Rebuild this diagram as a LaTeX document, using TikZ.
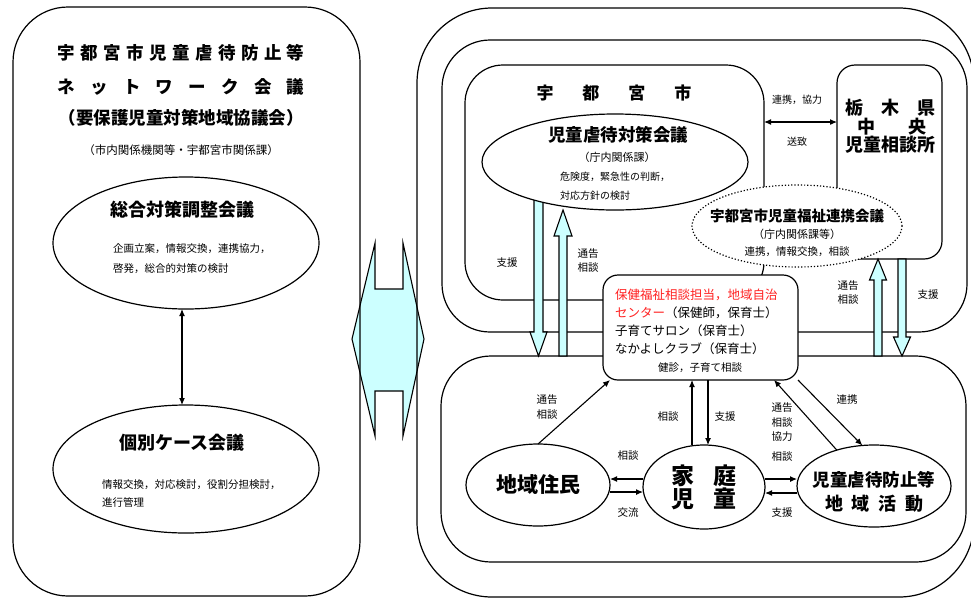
\documentclass[tikz,border=0pt]{standalone}
\usepackage{fontspec}
\setmainfont{Noto Sans CJK JP}
\usetikzlibrary{shapes.geometric,arrows.meta}

\definecolor{paleblue}{HTML}{CCFFFF}
\definecolor{alertred}{HTML}{FF2222}
\newcommand\sz[2]{\fontsize{#1}{#2}\selectfont}
\newcommand\spreadtext[2]{\makebox[#1][s]{#2}}

\tikzset{
    frame/.style={line width=1.2pt},
    box/.style={draw, line width=1.2pt, inner sep=0pt, outer sep=0pt},
    oval/.style={draw, ellipse, line width=1.2pt, fill=white, inner sep=0pt, outer sep=0pt},
    txt/.style={inner sep=0pt, align=center},
    lbl/.style={inner sep=0pt, align=center, font=\sz{10.5}{14.5}},
    arr/.style={line width=1.1pt, -{Latex[length=7pt,width=6pt]}},
    arrboth/.style={line width=1.1pt, {Latex[length=7pt,width=6pt]}-{Latex[length=7pt,width=6pt]}},
    blockarr/.style={draw, line width=1.1pt, fill=paleblue, line join=miter},
}

\begin{document}
\begin{tikzpicture}[x=1pt,y=-1pt]
\useasboundingbox (0,0) rectangle (971,598);

% link between the two halves
\draw[blockarr] (375,243) -- (352,339) -- (375,436) -- (375,391) -- (403,391)
    -- (403,436) -- (424,339) -- (403,243) -- (403,289) -- (375,289) -- cycle;

% frames
\foreach \xa/\ya/\xb/\yb/\r in {13/7/360/596/55, 417/8/974/597/75, 442/40/967/332/48, 441/356/966/562/50}
{
    \draw[frame, rounded corners=\r pt] (\xa,\ya) rectangle (\xb,\yb);
}
\node[box, rounded corners=38pt, minimum width=299pt, minimum height=235pt] (city) at (614.5,182.5) {};
\node[box, rounded corners=18pt, minimum width=105pt, minimum height=194pt] (tochigi) at (889.5,162) {};

% wide arrows
\draw[blockarr] (534,195) -- (534,332) -- (530,332) -- (538.5,356) -- (547,332) -- (543,332) -- (543,195) -- cycle;
\draw[blockarr] (559,356) -- (559,236) -- (554,236) -- (563,210) -- (572,236) -- (567,236) -- (567,356) -- cycle;
\draw[blockarr] (874,356) -- (874,280) -- (869.5,280) -- (878,259) -- (886.5,280) -- (882,280) -- (882,356) -- cycle;
\draw[blockarr] (898,259) -- (898,337) -- (893.5,337) -- (902,356) -- (910.5,337) -- (906,337) -- (906,259) -- cycle;

% left half
\node[txt, font=\sz{17.5}{18}\bfseries] (title1) at (181,53)
    {\spreadtext{247pt}{宇\hfill 都\hfill 宮\hfill 市\hfill 児\hfill 童\hfill 虐\hfill 待\hfill 防\hfill 止\hfill 等}};
\node[txt, font=\sz{17.5}{18}\bfseries] (title2) at (181,87)
    {\spreadtext{247pt}{ネ\hfill ッ\hfill ト\hfill ワ\hfill ー\hfill ク\hfill 会\hfill 議}};
\node[txt, font=\sz{17.5}{18}\bfseries] (title3) at (181,118) {（要保護児童対策地域協議会）};
\node[txt, font=\sz{11.5}{12}] (members) at (181,150) {（市内関係機関等・宇都宮市関係課）};

\node[oval, minimum width=266pt, minimum height=132pt] (sogo) at (186,243) {};
\node[txt, font=\sz{18}{18}\bfseries] (sogottl) at (182,210) {総合対策調整会議};
\node[txt, anchor=west, align=left, font=\sz{10.5}{20}] (sogotxt) at (113,259)
    {企画立案，情報交換，連携協力，\\啓発，総合的対策の検討};

\node[oval, minimum width=266pt, minimum height=128pt] (kobetsu) at (186,469) {};
\node[txt, font=\sz{18}{18}\bfseries] (kobetsuttl) at (182,443) {個別ケース会議};
\node[txt, anchor=west, align=left, font=\sz{10.5}{18}] (kobetsutxt) at (102,494)
    {情報交換，対応検討，役割分担検討，\\進行管理};

\draw[arrboth] ([xshift=-4pt]sogo.south) -- ([xshift=-4pt]kobetsu.north);

% right half, upper part
\node[txt, font=\sz{17}{17}\bfseries] (cityttl) at (614,93)
    {\spreadtext{155pt}{宇\hfill 都\hfill 宮\hfill 市}};

\node[oval, minimum width=266pt, minimum height=96pt] (taisaku) at (615,162) {};
\node[txt, font=\sz{17.5}{18}\bfseries] (taisakuttl) at (618,135) {児童虐待対策会議};
\node[txt, font=\sz{11}{12}] (taisakusub) at (617,157) {（庁内関係課）};
\node[txt, anchor=west, align=left, font=\sz{10}{19}] (taisakutxt) at (560,186.5)
    {危険度，緊急性の判断，\\対応方針の検討};

\node[oval, dotted, minimum width=210pt, minimum height=82pt] (renkei) at (797,226) {};
\node[txt, font=\sz{14.5}{15}\bfseries] (renkeittl) at (797,216) {宇都宮市児童福祉連携会議};
\node[txt, font=\sz{11}{12}] (renkeisub) at (797,234) {（庁内関係課等）};
\node[txt, font=\sz{10.5}{11}] (renkeitxt) at (797,252) {連携，情報交換，相談};

\node[txt, font=\sz{18}{18}\bfseries] (tochigi1) at (890,108) {\spreadtext{90pt}{栃\hfill 木\hfill 県}};
\node[txt, font=\sz{18}{18}\bfseries] (tochigi2) at (892,127) {\spreadtext{70pt}{中\hfill 央}};
\node[txt, font=\sz{18}{18}\bfseries] (tochigi3) at (890,145) {児童相談所};

\coordinate (link) at (800,122);
\draw[arrboth] (city.east |- link) -- (tochigi.west |- link);
\node[lbl, font=\sz{10}{11}] (l_kyoryoku) at (797,100) {連携，協力};
\node[lbl, font=\sz{10}{11}] (l_sochi) at (797,142) {送致};

\node[lbl] (l_shien1) at (507,263) {支援};
\node[lbl] (l_tsukoku1) at (588,260.5) {通告\\相談};
\node[lbl] (l_tsukoku2) at (848,292.5) {通告\\相談};
\node[lbl] (l_shien2) at (928,295) {支援};

% counselling desk
\node[box, fill=white, rounded corners=15pt, minimum width=195pt, minimum height=105pt] (hoken) at (700.5,327.5) {};
\node[txt, anchor=west, align=left, font=\sz{12.5}{18}] (hokentxt) at (615,322)
    {\textcolor{alertred}{保健福祉相談担当，地域自治}\\
     \textcolor{alertred}{センター}（保健師，保育士）\\
     子育てサロン（保育士）\\
     なかよしクラブ（保育士）};
\node[txt, font=\sz{10.5}{11}] (hokensub) at (700,368) {健診，子育て相談};

% right half, lower part
\node[oval, minimum width=144pt, minimum height=82pt, font=\sz{21}{21}\bfseries] (jumin) at (538,485) {地域住民};
\node[oval, minimum width=122pt, minimum height=84pt, align=center, font=\sz{23}{23}\bfseries] (katei) at (704,487)
    {\spreadtext{66pt}{家\hfill 庭}\\\spreadtext{66pt}{児\hfill 童}};
\node[oval, minimum width=154pt, minimum height=82pt] (katsudo) at (874,486) {};
\node[txt, font=\sz{17.5}{18}\bfseries] (katsudo1) at (874,480) {児童虐待防止等};
\node[txt, font=\sz{18}{18}\bfseries] (katsudo2) at (874,504) {\spreadtext{98pt}{地\hfill 域\hfill 活\hfill 動}};

\draw[arr] (jumin.north) -- ([xshift=7pt]hoken.south west);
\draw[arr] ([xshift=-12pt]katei.north) -- ([xshift=-12pt]katei.north |- hoken.south);
\draw[arr] ([xshift=4pt]katei.north |- hoken.south) -- ([xshift=4pt]katei.north);
\draw[arr] ([yshift=8pt]katei.west) -- ([yshift=8pt]katei.west -| jumin.east);
\draw[arr] ([yshift=-7pt]jumin.east) -- ([yshift=-7pt]jumin.east -| katei.west);
\draw[arr] ([yshift=8pt]katei.east) -- ([yshift=8pt]katei.east -| katsudo.west);
\draw[arr] ([yshift=-7pt]katsudo.west) -- ([yshift=-7pt]katsudo.west -| katei.east);
\draw[arr] (katsudo.136) -- ([xshift=-24pt]hoken.south east);
\draw[arr] (hoken.south east) -- (katsudo.106);

\node[lbl] (l_tsukoku3) at (547,407) {通告\\相談};
\node[lbl] (l_sodan1) at (668,417) {相談};
\node[lbl] (l_shien3) at (725,417) {支援};
\node[lbl] (l_sodan2) at (628,456) {相談};
\node[lbl] (l_koryu) at (628,513) {交流};
\node[lbl] (l_sodan3) at (782,457) {相談};
\node[lbl] (l_shien4) at (782,513) {支援};
\node[lbl] (l_kyoryoku2) at (782,422.5) {通告\\相談\\協力};
\node[lbl] (l_renkei) at (847,400) {連携};

\end{tikzpicture}
\end{document}
